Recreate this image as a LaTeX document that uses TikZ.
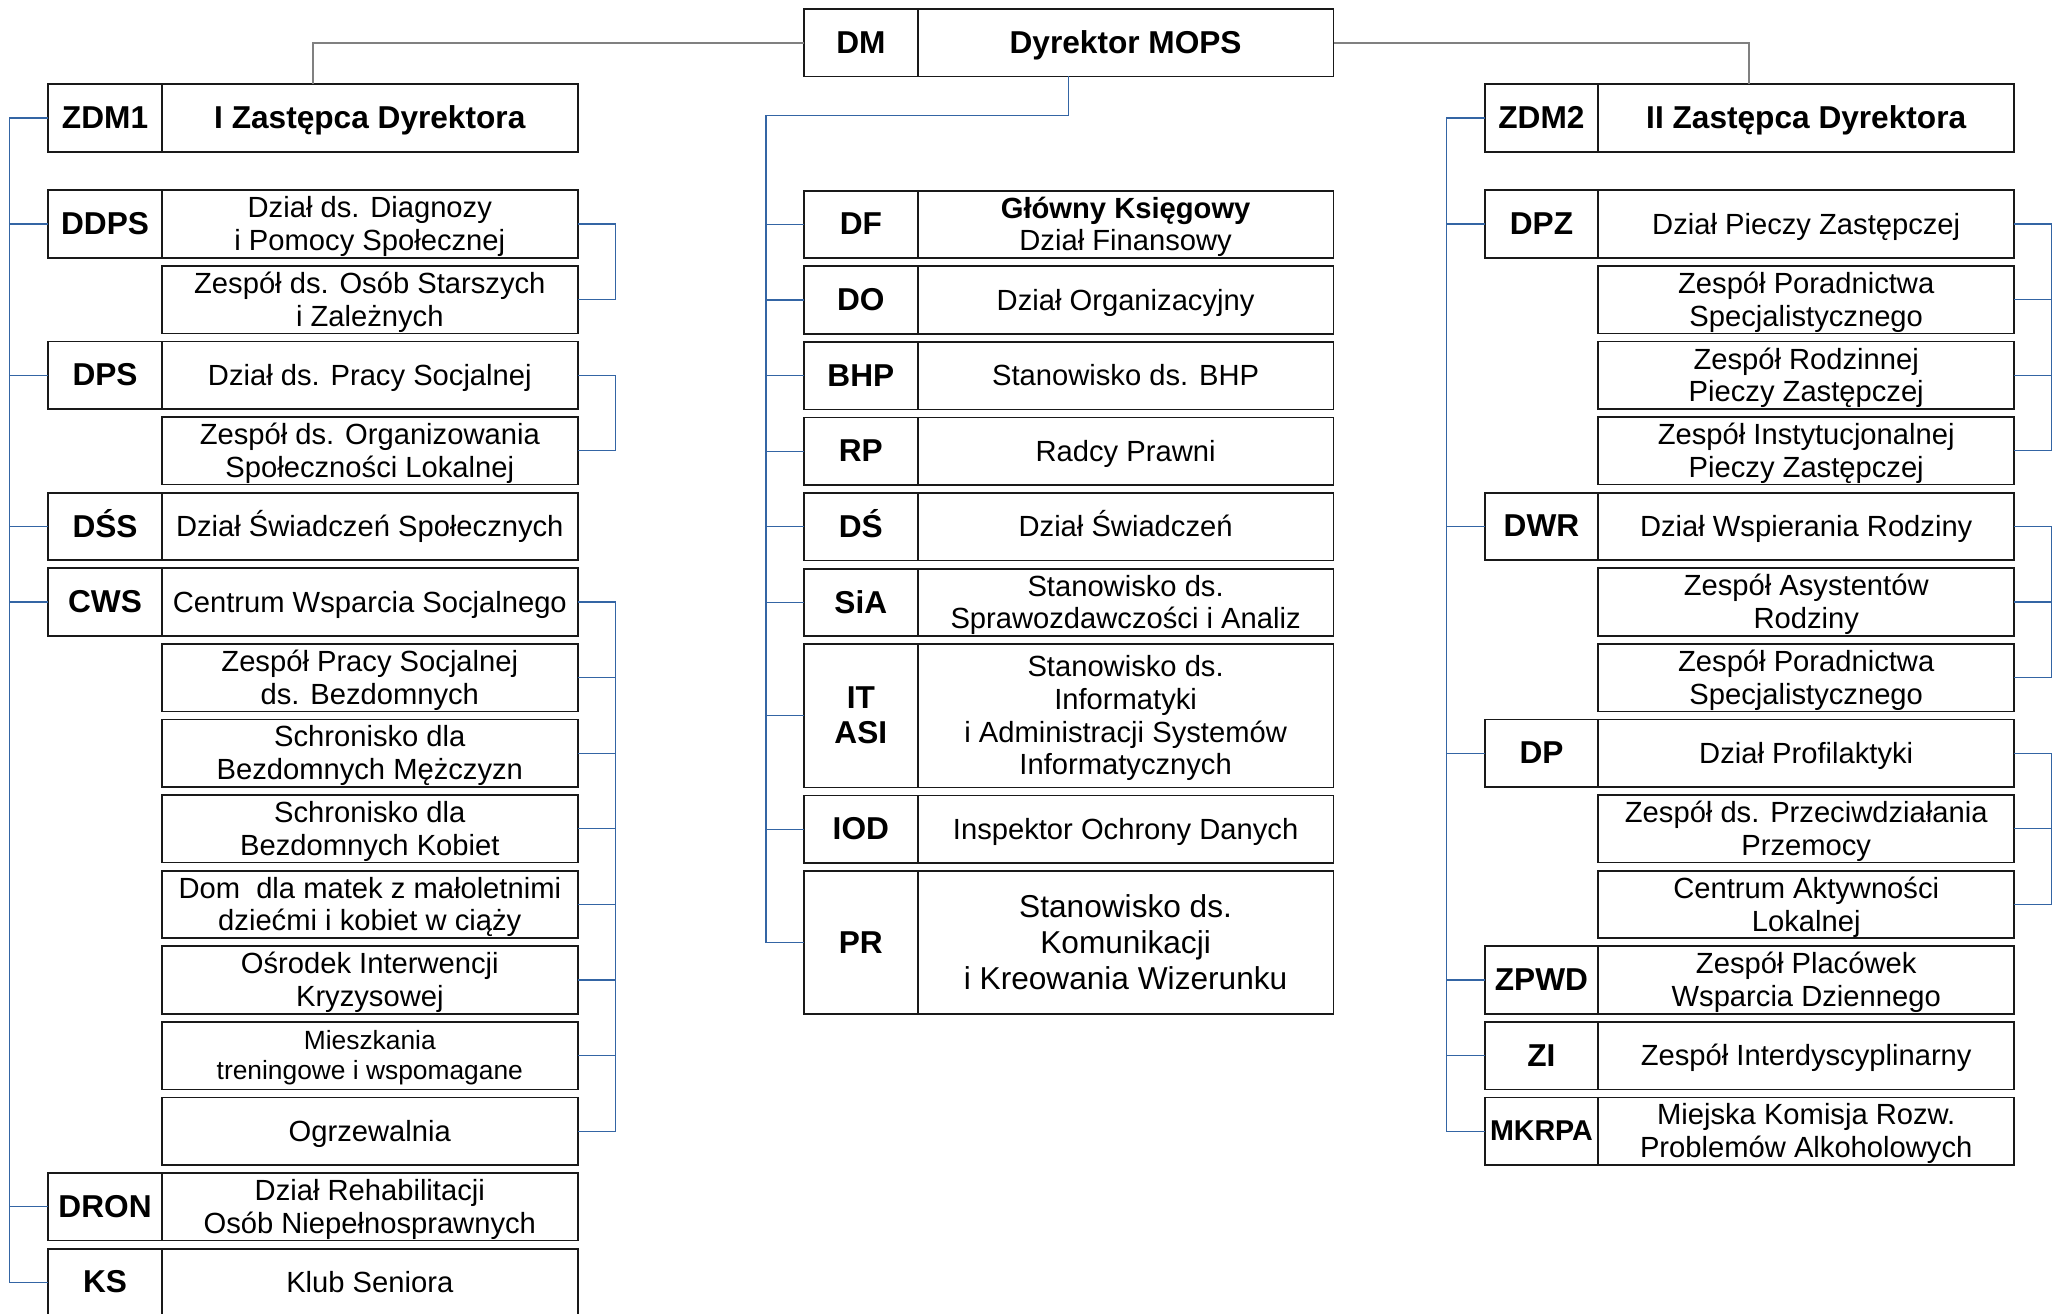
\documentclass[tikz,border=0pt]{standalone}
\usepackage{fontspec}
\setmainfont{Liberation Sans}
\usetikzlibrary{positioning, calc}

\definecolor{linkblue}{RGB}{52,101,164}

\begin{document}
\begin{tikzpicture}[
        codebox/.style = {
                draw=black!90,
                line width=1pt,
                outer sep=0pt,
                inner sep=0pt,
                minimum width=2.274cm,
                minimum height=1.35cm,
                text depth=0.6pt,
                align=center,
                font=\fontsize{18}{20}\selectfont\bfseries
            },
        namebox/.style = {
                codebox,
                minimum width=8.316cm,
                font=\fontsize{16.6}{18.6}\selectfont
            },
        titlebox/.style = {namebox, font=\fontsize{18}{20}\selectfont\bfseries},
        tallbox/.style = {minimum height=2.862cm},
        link/.style = {draw=linkblue, line width=0.65pt},
        toplink/.style = {draw=black!50, line width=1.1pt},
        node distance = 0.162cm
    ]
    \useasboundingbox (0,0) rectangle (41.14,-26.28);

    % top level
    \node[codebox, anchor=north west] (dm) at (16.08,-0.18) {DM};
    \node[titlebox] (dm_text) [right=0pt of dm] {Dyrektor MOPS};
    \node[codebox, anchor=north west] (zdm1) at (0.964,-1.686) {ZDM1};
    \node[titlebox] (zdm1_text) [right=0pt of zdm1] {I Zastępca Dyrektora};
    \node[codebox, anchor=north west] (zdm2) at (29.692,-1.686) {ZDM2};
    \node[titlebox] (zdm2_text) [right=0pt of zdm2] {II Zastępca Dyrektora};

    % left column
    \node[codebox] (ddps) [below=0.77cm of zdm1] {DDPS};
    \node[namebox] (ddps_text) [right=0pt of ddps] {Dział ds. Diagnozy\\i Pomocy Społecznej};
    \node[namebox] (ddps_sub1) [below=of ddps_text] {Zespół ds. Osób Starszych\\i Zależnych};
    \node[codebox] (dps) [below=of ddps_sub1.south west, anchor=north east] {DPS};
    \node[namebox] (dps_text) [right=0pt of dps] {Dział ds. Pracy Socjalnej};
    \node[namebox] (dps_sub1) [below=of dps_text] {Zespół ds. Organizowania\\Społeczności Lokalnej};
    \node[codebox, text height=13.1pt] (dss) [below=of dps_sub1.south west, anchor=north east] {DŚS};
    \node[namebox, text height=12.1pt] (dss_text) [right=0pt of dss] {Dział Świadczeń Społecznych};
    \node[codebox] (cws) [below=of dss] {CWS};
    \node[namebox] (cws_text) [right=0pt of cws] {Centrum Wsparcia Socjalnego};
    \node[namebox] (cws_sub1) [below=of cws_text] {Zespół Pracy Socjalnej\\ds. Bezdomnych};
    \node[namebox] (cws_sub2) [below=of cws_sub1] {Schronisko dla\\Bezdomnych Mężczyzn};
    \node[namebox] (cws_sub3) [below=of cws_sub2] {Schronisko dla\\Bezdomnych Kobiet};
    \node[namebox] (cws_sub4) [below=of cws_sub3] {Dom\ \ dla matek z małoletnimi\\dziećmi i kobiet w ciąży};
    \node[namebox] (cws_sub5) [below=of cws_sub4] {Ośrodek Interwencji\\Kryzysowej};
    \node[namebox, font=\fontsize{15}{17}\selectfont] (cws_sub6) [below=of cws_sub5] {Mieszkania\\treningowe i wspomagane};
    \node[namebox] (cws_sub7) [below=of cws_sub6] {Ogrzewalnia};
    \node[codebox] (dron) [below=of cws_sub7.south west, anchor=north east] {DRON};
    \node[namebox] (dron_text) [right=0pt of dron] {Dział Rehabilitacji\\Osób Niepełnosprawnych};
    \node[codebox] (ks) [below=of dron] {KS};
    \node[namebox] (ks_text) [right=0pt of ks] {Klub Seniora};

    % middle column
    \node[codebox] (df) [below=2.284cm of dm] {DF};
    \node[namebox] (df_text) [right=0pt of df] {\textbf{Główny Księgowy}\\Dział Finansowy};
    \node[codebox] (do) [below=of df] {DO};
    \node[namebox] (do_text) [right=0pt of do] {Dział Organizacyjny};
    \node[codebox] (bhp) [below=of do] {BHP};
    \node[namebox] (bhp_text) [right=0pt of bhp] {Stanowisko ds. BHP};
    \node[codebox] (rp) [below=of bhp] {RP};
    \node[namebox] (rp_text) [right=0pt of rp] {Radcy Prawni};
    \node[codebox, text height=13.1pt] (ds) [below=of rp] {DŚ};
    \node[namebox, text height=12.1pt] (ds_text) [right=0pt of ds] {Dział Świadczeń};
    \node[codebox] (sia) [below=of ds] {SiA};
    \node[namebox] (sia_text) [right=0pt of sia] {Stanowisko ds.\\Sprawozdawczości i Analiz};
    \node[codebox, tallbox] (itasi) [below=of sia] {IT\\ASI};
    \node[namebox, tallbox] (itasi_text) [right=0pt of itasi] {Stanowisko ds.\\Informatyki\\i Administracji Systemów\\Informatycznych};
    \node[codebox] (iod) [below=of itasi] {IOD};
    \node[namebox] (iod_text) [right=0pt of iod] {Inspektor Ochrony Danych};
    \node[codebox, tallbox] (pr) [below=of iod] {PR};
    \node[namebox, tallbox, font=\fontsize{18}{20.5}\selectfont] (pr_text) [right=0pt of pr] {Stanowisko ds.\\Komunikacji\\i Kreowania Wizerunku};

    % right column
    \node[codebox] (dpz) [below=0.77cm of zdm2] {DPZ};
    \node[namebox] (dpz_text) [right=0pt of dpz] {Dział Pieczy Zastępczej};
    \node[namebox] (dpz_sub1) [below=of dpz_text] {Zespół Poradnictwa\\Specjalistycznego};
    \node[namebox] (dpz_sub2) [below=of dpz_sub1] {Zespół Rodzinnej\\Pieczy Zastępczej};
    \node[namebox] (dpz_sub3) [below=of dpz_sub2] {Zespół Instytucjonalnej\\Pieczy Zastępczej};
    \node[codebox] (dwr) [below=of dpz_sub3.south west, anchor=north east] {DWR};
    \node[namebox] (dwr_text) [right=0pt of dwr] {Dział Wspierania Rodziny};
    \node[namebox] (dwr_sub1) [below=of dwr_text] {Zespół Asystentów\\Rodziny};
    \node[namebox] (dwr_sub2) [below=of dwr_sub1] {Zespół Poradnictwa\\Specjalistycznego};
    \node[codebox] (dp) [below=of dwr_sub2.south west, anchor=north east] {DP};
    \node[namebox] (dp_text) [right=0pt of dp] {Dział Profilaktyki};
    \node[namebox] (dp_sub1) [below=of dp_text] {Zespół ds. Przeciwdziałania\\Przemocy};
    \node[namebox] (dp_sub2) [below=of dp_sub1] {Centrum Aktywności\\Lokalnej};
    \node[codebox] (zpwd) [below=of dp_sub2.south west, anchor=north east] {ZPWD};
    \node[namebox] (zpwd_text) [right=0pt of zpwd] {Zespół Placówek\\Wsparcia Dziennego};
    \node[codebox] (zi) [below=of zpwd] {ZI};
    \node[namebox] (zi_text) [right=0pt of zi] {Zespół Interdyscyplinarny};
    \node[codebox, font=\fontsize{16.3}{18}\selectfont\bfseries] (mkrpa) [below=of zi] {MKRPA};
    \node[namebox] (mkrpa_text) [right=0pt of mkrpa] {Miejska Komisja Rozw.\\Problemów Alkoholowych};

    % connectors
    \draw[toplink] (dm.west) -| ($(zdm1.north west)!0.5!(zdm1_text.north east)$);
    \draw[toplink] (dm_text.east) -| ($(zdm2.north west)!0.5!(zdm2_text.north east)$);

    \draw[link] (zdm1.west) -- ++(-0.77,0) |- (ks.west)
        (ddps.west) -- ++(-0.77,0) (dps.west) -- ++(-0.77,0) (dss.west) -- ++(-0.77,0)
        (cws.west) -- ++(-0.77,0) (dron.west) -- ++(-0.77,0);
    \draw[link] (ddps_text.east) -- ++(0.75,0) |- (ddps_sub1.east);
    \draw[link] (dps_text.east) -- ++(0.75,0) |- (dps_sub1.east);
    \draw[link] (cws_text.east) -- ++(0.75,0) |- (cws_sub7.east)
        (cws_sub1.east) -- ++(0.75,0) (cws_sub2.east) -- ++(0.75,0) (cws_sub3.east) -- ++(0.75,0)
        (cws_sub4.east) -- ++(0.75,0) (cws_sub5.east) -- ++(0.75,0) (cws_sub6.east) -- ++(0.75,0);

    \draw[link] ($(dm.south west)!0.5!(dm_text.south east)$) -- ++(0,-0.78) -| ($(pr.west)+(-0.76,0)$) -- (pr.west)
        (df.west) -- ++(-0.76,0) (do.west) -- ++(-0.76,0) (bhp.west) -- ++(-0.76,0)
        (rp.west) -- ++(-0.76,0) (ds.west) -- ++(-0.76,0) (sia.west) -- ++(-0.76,0)
        (itasi.west) -- ++(-0.76,0) (iod.west) -- ++(-0.76,0);

    \draw[link] (zdm2.west) -- ++(-0.76,0) |- (mkrpa.west)
        (dpz.west) -- ++(-0.76,0) (dwr.west) -- ++(-0.76,0) (dp.west) -- ++(-0.76,0)
        (zpwd.west) -- ++(-0.76,0) (zi.west) -- ++(-0.76,0);
    \draw[link] (dpz_text.east) -- ++(0.75,0) |- (dpz_sub3.east)
        (dpz_sub1.east) -- ++(0.75,0) (dpz_sub2.east) -- ++(0.75,0);
    \draw[link] (dwr_text.east) -- ++(0.75,0) |- (dwr_sub2.east)
        (dwr_sub1.east) -- ++(0.75,0);
    \draw[link] (dp_text.east) -- ++(0.75,0) |- (dp_sub2.east)
        (dp_sub1.east) -- ++(0.75,0);
\end{tikzpicture}
\end{document}
